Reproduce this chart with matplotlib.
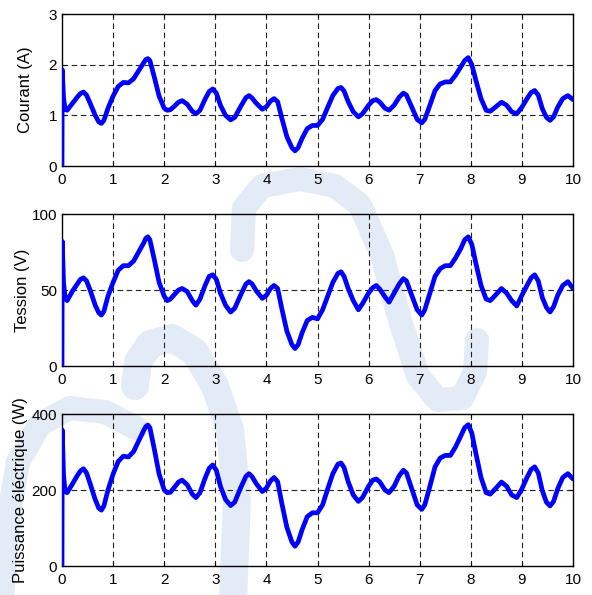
import matplotlib
matplotlib.use("Agg")
import matplotlib.pyplot as plt
from matplotlib.lines import Line2D

plt.rcParams['font.family'] = ['Liberation Sans', 'DejaVu Sans']
plt.rcParams['lines.scale_dashes'] = False

# Sample times (s)
temps = [0.0, 0.005, 0.03, 0.06, 0.1, 0.2, 0.3, 0.36, 0.42, 0.48,
         0.55, 0.65, 0.72, 0.77, 0.82, 0.9, 1.0, 1.1, 1.2, 1.3,
         1.4, 1.5, 1.6, 1.64, 1.68, 1.72, 1.8, 1.9, 2.0, 2.06,
         2.12, 2.2, 2.28, 2.35, 2.45, 2.55, 2.62, 2.7, 2.8, 2.88,
         2.95, 3.02, 3.1, 3.2, 3.3, 3.38, 3.5, 3.6, 3.66, 3.72,
         3.8, 3.92, 4.0, 4.08, 4.15, 4.22, 4.3, 4.4, 4.5, 4.56,
         4.62, 4.7, 4.8, 4.9, 5.0, 5.1, 5.2, 5.3, 5.4, 5.46,
         5.52, 5.6, 5.7, 5.8, 5.88, 6.0, 6.08, 6.15, 6.22, 6.32,
         6.4, 6.5, 6.6, 6.68, 6.74, 6.85, 6.95, 7.04, 7.1, 7.2,
         7.3, 7.4, 7.5, 7.6, 7.7, 7.8, 7.88, 7.95, 8.02, 8.1,
         8.2, 8.3, 8.38, 8.48, 8.6, 8.7, 8.8, 8.9, 9.0, 9.1,
         9.18, 9.25, 9.32, 9.4, 9.48, 9.55, 9.62, 9.7, 9.8, 9.9,
         10.0]

# Current (A)
courant = [0.0, 1.9, 1.35, 1.12, 1.1, 1.23, 1.36, 1.43, 1.46, 1.4,
           1.24, 1.0, 0.87, 0.84, 0.9, 1.14, 1.38, 1.57, 1.65, 1.64,
           1.72, 1.88, 2.04, 2.1, 2.12, 2.08, 1.78, 1.38, 1.14, 1.1,
           1.11, 1.18, 1.26, 1.29, 1.22, 1.08, 1.03, 1.1, 1.32, 1.47,
           1.52, 1.44, 1.2, 1.0, 0.91, 0.96, 1.18, 1.35, 1.39, 1.34,
           1.24, 1.12, 1.17, 1.28, 1.33, 1.27, 0.95, 0.58, 0.36, 0.3,
           0.36, 0.55, 0.74, 0.8, 0.8, 0.92, 1.16, 1.39, 1.53, 1.55,
           1.48, 1.27, 1.07, 0.97, 1.03, 1.2, 1.29, 1.31, 1.26, 1.14,
           1.1, 1.2, 1.36, 1.44, 1.4, 1.15, 0.92, 0.85, 0.92, 1.2,
           1.49, 1.62, 1.66, 1.66, 1.79, 1.95, 2.08, 2.14, 2.0, 1.69,
           1.33, 1.1, 1.08, 1.16, 1.26, 1.2, 1.07, 1.03, 1.16, 1.33,
           1.45, 1.49, 1.4, 1.13, 0.96, 0.9, 0.97, 1.16, 1.33, 1.39,
           1.31]

# Voltage (V)
tension = [0, 82, 55, 45, 43, 49, 54, 57, 58, 56,
           50, 40, 35, 33.5, 36, 46, 55, 63, 66, 66,
           69, 75, 81, 84, 85, 83, 71, 55, 46, 43,
           44, 47, 50, 51, 49, 43, 40, 44, 53, 59,
           60, 57, 48, 40, 35.5, 38, 47, 54, 55.5, 54,
           49.5, 44.5, 46.5, 51, 53, 51, 38, 23, 14, 11.5,
           14, 22, 30, 32, 31, 37, 46, 55, 61, 62,
           59, 51, 43, 37, 41, 48, 51.5, 53, 50.5, 45.5,
           42, 48, 54, 57.5, 56, 46, 37, 33.5, 37, 48,
           59, 64, 66, 66, 71, 77, 83, 85, 80, 67.5,
           53, 44, 43, 46.5, 51, 48, 43, 39.5, 46.5, 53,
           58, 60, 56, 45, 38.5, 35.5, 39, 46.5, 53, 55.5,
           51]

# Electrical power (W)
puissance = [0, 358, 240, 196, 193, 215, 238, 250, 256, 245,
             217, 175, 152, 147, 158, 200, 242, 275, 289, 287,
             301, 329, 357, 367, 371, 364, 312, 242, 200, 193,
             194, 207, 221, 226, 214, 189, 180, 193, 231, 257,
             266, 252, 210, 175, 159, 168, 207, 236, 243, 235,
             217, 196, 205, 224, 233, 222, 166, 102, 63, 52,
             63, 96, 130, 140, 140, 161, 203, 243, 268, 271,
             259, 222, 187, 170, 180, 210, 226, 229, 221, 200,
             193, 210, 238, 252, 245, 201, 161, 149, 161, 210,
             261, 284, 291, 291, 313, 341, 364, 372, 350, 296,
             233, 193, 189, 203, 221, 210, 187, 180, 203, 233,
             254, 261, 245, 198, 168, 158, 170, 203, 233, 243,
             229]

panels = [
    (courant, "Courant (A)", (0, 3), [0, 1, 2, 3], [1, 2], 33),
    (tension, "Tession (V)", (0, 100), [0, 50, 100], [50], 30),
    (puissance, "Puissance éléctrique (W)", (0, 400), [0, 200, 400], [200], 28),
]
x_ticks = list(range(0, 11))

W, H = 592, 595
fig = plt.figure(figsize=(W / 100, H / 100), dpi=100)

# Faint background emblem strokes (pixel coordinates, origin top-left)
emblem_color = '#e3ebf6'
emblem_strokes = [
    ([(242, 250), (244, 208), (262, 186), (300, 179), (335, 186), (360, 205),
      (382, 255), (400, 320), (418, 376), (438, 400), (462, 398), (475, 372),
      (477, 340)], 24),
    ([(135, 386), (138, 362), (150, 344), (172, 338), (195, 352), (215, 386),
      (230, 430), (237, 500), (233, 600)], 28),
    ([(2, 600), (8, 520), (18, 462), (40, 424), (70, 408), (105, 412),
      (136, 428)], 24),
]
for pts, width in emblem_strokes:
    xs = [p[0] / W for p in pts]
    ys = [1 - p[1] / H for p in pts]
    fig.add_artist(Line2D(xs, ys, transform=fig.transFigure, color=emblem_color,
                          linewidth=width * 0.72, solid_capstyle='round',
                          solid_joinstyle='round', zorder=-5))

axes_tops = [14, 214, 414]
ax_h = 152
ax_l, ax_w = 62, 511
for (vals, label, ylim, yticks, ygrid, lab_x), top in zip(panels, axes_tops):
    ax = fig.add_axes([ax_l / W, 1 - (top + ax_h) / H, ax_w / W, ax_h / H])
    ax.set_facecolor('none')
    ax.plot(temps, vals, color='#0000ff', linewidth=3.4,
            solid_joinstyle='round', solid_capstyle='round', zorder=3)
    ax.set_xlim(0, 10)
    ax.set_ylim(*ylim)
    ax.set_xticks(x_ticks)
    ax.set_yticks(yticks)
    for xv in x_ticks[1:-1]:
        ax.axvline(xv, color='#222222', linewidth=0.8, dashes=(4, 2.6), zorder=1)
    for yv in ygrid:
        ax.axhline(yv, color='#222222', linewidth=0.8, dashes=(4, 2.6), zorder=1)
    ax.tick_params(direction='in', length=3, width=0.8, top=True, right=True,
                   labelsize=11, colors='black')
    ax.tick_params(axis='x', pad=5)
    ax.tick_params(axis='y', pad=3.5)
    for sp in ax.spines.values():
        sp.set_linewidth(1.0)
        sp.set_color('black')
    ax.set_ylabel(label, fontsize=12)
    ax.yaxis.set_label_coords((lab_x - ax_l) / ax_w, 0.5)

fig.savefig("out.png", dpi=100)
